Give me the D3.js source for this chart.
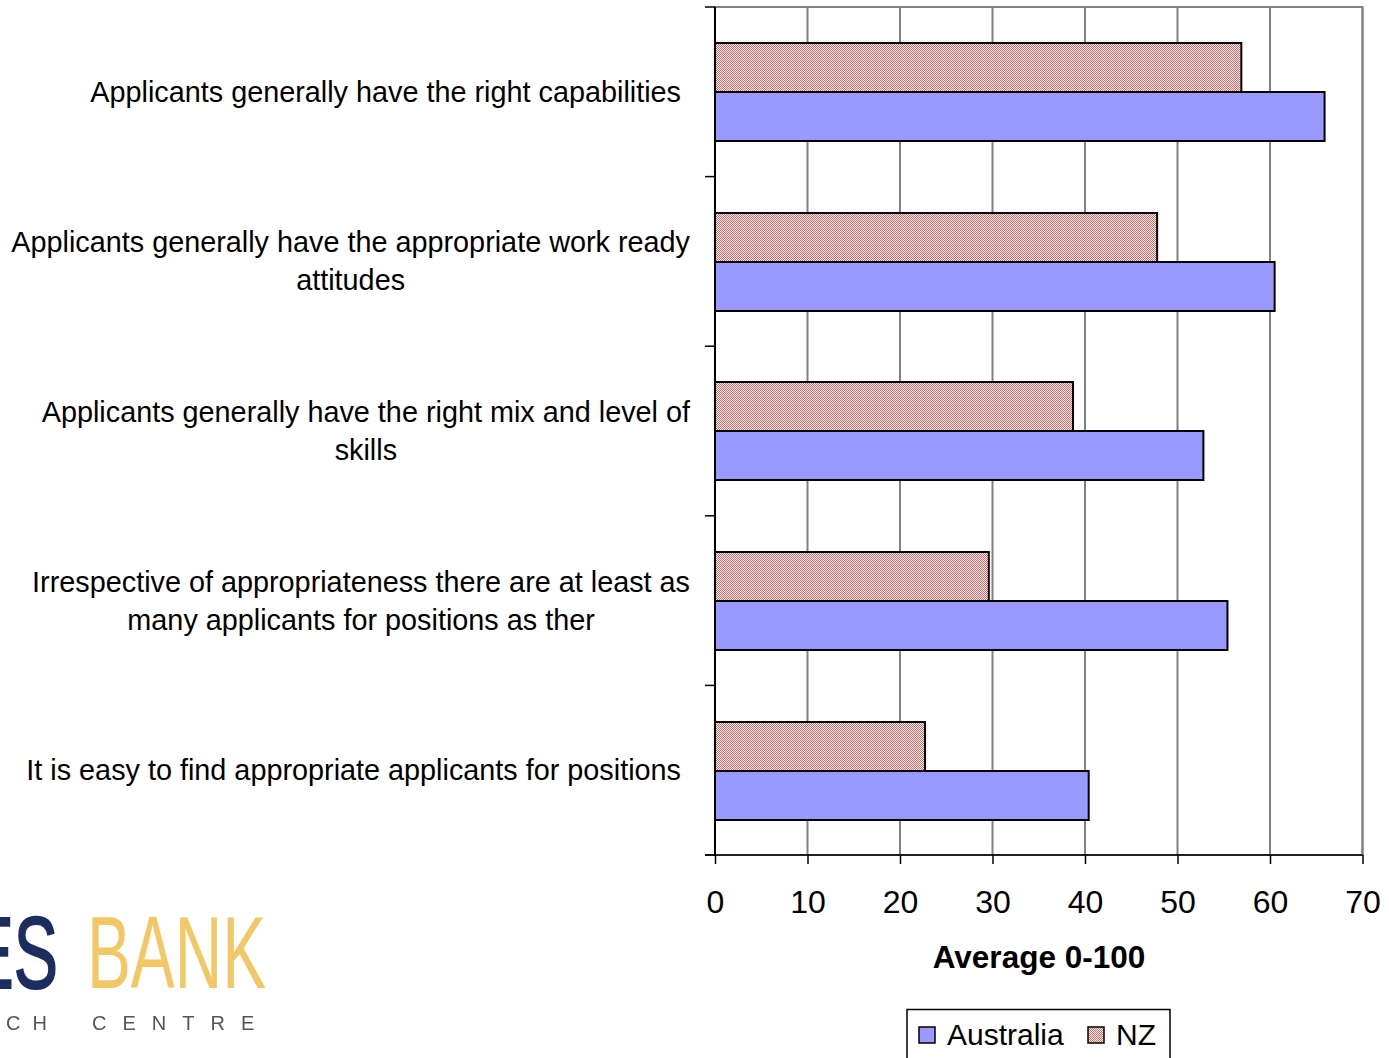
<!DOCTYPE html>
<html>
<head>
<meta charset="utf-8">
<script src="https://cdn.jsdelivr.net/npm/d3@7"></script>
<style>
  html, body { margin: 0; padding: 0; background: #fff; }
  svg { display: block; font-family: "Liberation Sans", Arial, sans-serif; }
</style>
</head>
<body>
<svg id="chart" width="1389" height="1058"></svg>
<script>
// Survey statements (top to bottom)
const categories = [
  "Applicants generally have the right capabilities",
  "Applicants generally have the appropriate work ready attitudes",
  "Applicants generally have the right mix and level of skills",
  "Irrespective of appropriateness there are at least as many applicants for positions as ther",
  "It is easy to find appropriate applicants for positions"
];
// Average scores (0-100) per statement
const australia = [65.9, 60.5, 52.8, 55.4, 40.4];
const nz        = [56.9, 47.8, 38.7, 29.6, 22.7];
const seriesNames = ["Australia", "NZ"];
const xTicks = [0, 10, 20, 30, 40, 50, 60, 70];
const xTitle = "Average 0-100";

const svg = d3.select("#chart");
const plot = { left: 715, right: 1362.5, top: 7, bottom: 855 };

const colors = { Australia: "#9999FF", NZ: "url(#nzPattern)" };

// Fine red/white checker used by the NZ series (anchored to the page grid)
const defs = svg.append("defs");
const pat = defs.append("pattern")
  .attr("id", "nzPattern").attr("patternUnits", "userSpaceOnUse")
  .attr("width", 2).attr("height", 2);
pat.append("rect").attr("width", 2).attr("height", 2).attr("fill", "#ffffff");
pat.append("rect").attr("x", 0).attr("y", 0).attr("width", 1).attr("height", 1).attr("fill", "#ff5a5a");
pat.append("rect").attr("x", 1).attr("y", 1).attr("width", 1).attr("height", 1).attr("fill", "#ff5a5a");

defs.append("filter").attr("id", "soft")
  .append("feGaussianBlur").attr("stdDeviation", 0.7);

const x = d3.scaleLinear().domain([0, 70]).range([plot.left, plot.right]);
const y0 = d3.scaleBand().domain(categories).range([plot.top, plot.bottom])
  .paddingInner(0.426).paddingOuter(0.213);
const y1 = d3.scaleBand().domain(["NZ", "Australia"]).range([0, y0.bandwidth()]);

// Plot frame and vertical gridlines
svg.append("rect")
  .attr("x", plot.left).attr("y", plot.top)
  .attr("width", plot.right - plot.left).attr("height", plot.bottom - plot.top)
  .attr("fill", "none").attr("stroke", "#808080").attr("stroke-width", 2);
svg.append("g").selectAll("line").data(xTicks.slice(1))
  .join("line")
  .attr("x1", d => x(d)).attr("x2", d => x(d))
  .attr("y1", plot.top).attr("y2", plot.bottom)
  .attr("stroke", "#808080").attr("stroke-width", 2);

// Bars, snapped to whole pixels so the checker fill stays crisp
const bars = categories.flatMap((c, i) => [
  { cat: c, key: "NZ", v: nz[i] }, { cat: c, key: "Australia", v: australia[i] }
]);
const bh = Math.round(y1.bandwidth());
svg.append("g").selectAll("rect").data(bars).join("rect")
  .attr("x", x(0))
  .attr("y", d => Math.round(y0(d.cat)) + (d.key === "NZ" ? 0 : bh))
  .attr("width", d => x(d.v) - x(0))
  .attr("height", bh)
  .attr("fill", d => colors[d.key])
  .attr("stroke", "#000").attr("stroke-width", 2);

// Value axis (bottom)
const xAxis = svg.append("g")
  .attr("transform", `translate(0,${plot.bottom})`)
  .call(d3.axisBottom(x).tickValues(xTicks).tickSize(9).tickSizeOuter(0));
xAxis.select(".domain").remove();
xAxis.append("line").attr("x1", plot.left - 10).attr("x2", plot.right)
  .attr("stroke", "#000").attr("stroke-width", 1.5);
xAxis.selectAll(".tick line").attr("stroke", "#000").attr("stroke-width", 1.5);
xAxis.selectAll(".tick text")
  .attr("fill", "#000").attr("font-size", 32).attr("dy", 0)
  .attr("y", 58).attr("font-family", "Liberation Sans, Arial, sans-serif");

// Category axis (left): line plus tick marks at band boundaries
const bounds = categories.map(c => y0(c) - (y0.step() - y0.bandwidth()) / 2);
bounds.push(plot.bottom);
svg.append("line").attr("x1", plot.left).attr("x2", plot.left)
  .attr("y1", plot.top).attr("y2", plot.bottom)
  .attr("stroke", "#000").attr("stroke-width", 2);
svg.append("g").selectAll("line").data(bounds).join("line")
  .attr("x1", plot.left - 10).attr("x2", plot.left)
  .attr("y1", d => d).attr("y2", d => d)
  .attr("stroke", "#000").attr("stroke-width", 1.5);

// Category labels, wrapped and centred line by line
const labelSize = 28.8, lineH = 38, wrapW = 686;
const measure = svg.append("text").attr("font-size", labelSize).attr("visibility", "hidden");
function widthOf(s) { measure.text(s); return measure.node().getComputedTextLength(); }
function wrap(s) {
  const words = s.split(" "), lines = [];
  let cur = "";
  words.forEach(w => {
    const t = cur ? cur + " " + w : w;
    if (cur && widthOf(t) > wrapW) { lines.push(cur); cur = w; } else cur = t;
  });
  lines.push(cur);
  return lines;
}
categories.forEach(c => {
  const lines = wrap(c);
  const maxW = d3.max(lines, widthOf);
  const right = lines.length > 1 ? plot.left - 25 : plot.left - 34;
  const cx = right - maxW / 2;
  const cy = y0(c) + y0.bandwidth() / 2;
  const t = svg.append("text").attr("font-size", labelSize).attr("fill", "#000")
    .attr("text-anchor", "middle");
  lines.forEach((ln, i) => {
    t.append("tspan").attr("x", cx)
      .attr("y", cy + (i - (lines.length - 1) / 2) * lineH)
      .attr("dy", "0.35em").text(ln);
  });
});
measure.remove();

// Axis title
svg.append("text").attr("x", 1039).attr("y", 968)
  .attr("text-anchor", "middle").attr("font-size", 31.5).attr("font-weight", "bold")
  .text(xTitle);

// Legend
const lg = svg.append("g");
lg.append("rect").attr("x", 907).attr("y", 1009.5).attr("width", 263).attr("height", 60)
  .attr("fill", "#fff").attr("stroke", "#000").attr("stroke-width", 1.5);
const legendX = { Australia: 919, NZ: 1088 };
seriesNames.forEach(s => {
  lg.append("rect").attr("x", legendX[s]).attr("y", 1027).attr("width", 16).attr("height", 16)
    .attr("fill", colors[s]).attr("stroke", "#000").attr("stroke-width", 1.5);
  lg.append("text").attr("x", legendX[s] + 28).attr("y", 1045)
    .attr("font-size", 30).attr("fill", "#000").text(s);
});

// Research centre logo, partly cut off at the left edge
const logo = svg.append("g").attr("filter", "url(#soft)");
logo.append("text").attr("transform", "translate(58,988) scale(0.65,1)")
  .attr("text-anchor", "end").attr("font-size", 102)
  .attr("fill", "#1d2d5e").attr("stroke", "#1d2d5e").attr("stroke-width", 2)
  .text("ES");
logo.append("text").attr("transform", "translate(87,988) scale(0.645,1)")
  .attr("font-size", 102)
  .attr("fill", "#f2c866").text("BANK");
logo.append("text").attr("x", 6).attr("y", 1030).attr("font-size", 20)
  .attr("letter-spacing", 12).attr("fill", "#555").text("CH");
logo.append("text").attr("x", 92).attr("y", 1030).attr("font-size", 20)
  .attr("letter-spacing", 16).attr("fill", "#555").text("CENTRE");
</script>
</body>
</html>
